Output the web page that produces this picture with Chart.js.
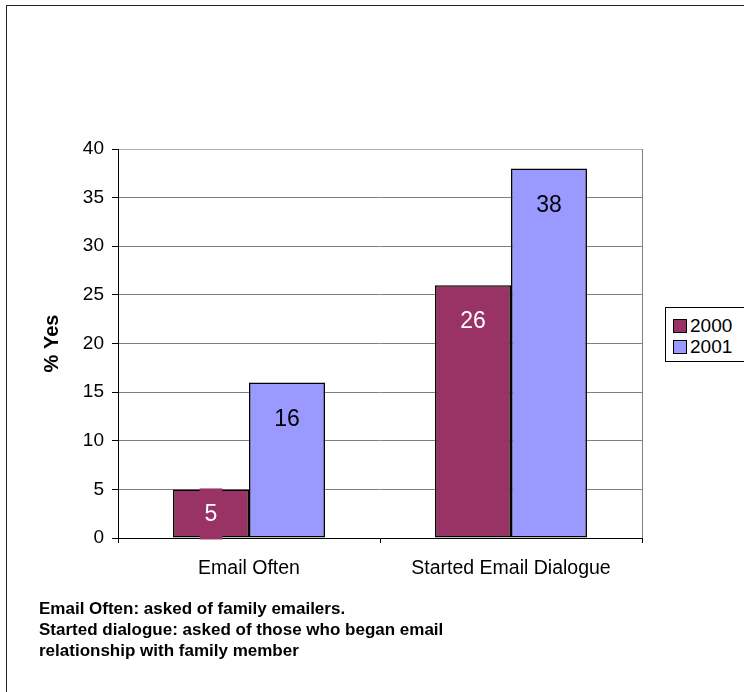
<!DOCTYPE html>
<html>
<head>
<meta charset="utf-8">
<script src="https://cdn.jsdelivr.net/npm/chart.js@4/dist/chart.umd.min.js"></script>
<style>
  html, body { margin: 0; padding: 0; background: #fff; }
  body { width: 744px; height: 692px; overflow: hidden; position: relative; font-family: Arial, "Liberation Sans", sans-serif; }
  #frame { position: absolute; left: 6px; top: 5px; width: 760px; height: 720px; border-left: 1px solid #222; border-top: 1px solid #222; }
  #chart { position: absolute; left: 0; top: 0; }
  #legend { position: absolute; left: 665px; top: 307px; width: 100px; height: 53px; border: 1px solid #000; background: #fff; }
  .item { position: absolute; left: 7px; font-size: 19px; line-height: 20px; color: #000; }
  .swatch { display: inline-block; width: 12px; height: 12px; border: 1px solid #000; margin-right: 3px; vertical-align: -1px; }
  #note { position: absolute; left: 39px; top: 598px; font-size: 17px; font-weight: bold; line-height: 21px; color: #000; }
</style>
</head>
<body>
<div id="frame"></div>
<canvas id="chart" width="744" height="692"></canvas>
<div id="legend"></div>
<div id="note">Email Often: asked of family emailers.<br>Started dialogue: asked of those who began email<br>relationship with family member</div>
<script>
const categories = ["Email Often", "Started Email Dialogue"];
const seriesNames = ["2000", "2001"];
const values2000 = [5, 26];
const values2001 = [16, 38];
const yTicks = [0, 5, 10, 15, 20, 25, 30, 35, 40];

const barColors = ["#993366", "#9999FF"];
const labelColors = ["#ffffff", "#000000"];

// legend built from the series
const legendEl = document.getElementById("legend");
seriesNames.forEach((name, i) => {
    const row = document.createElement("div");
    row.className = "item";
    row.style.top = (8 + i * 21) + "px";
    row.innerHTML = '<span class="swatch" style="background:' + barColors[i] + '"></span>' + name;
    legendEl.appendChild(row);
});

// labels inside the top of each bar, with a box in the bar colour
const barLabels = {
    id: "barLabels",
    afterDatasetsDraw(chart) {
        const ctx = chart.ctx;
        ctx.save();
        ctx.font = "23px Arial, 'Liberation Sans', sans-serif";
        ctx.textAlign = "center";
        ctx.textBaseline = "middle";
        chart.data.datasets.forEach((ds, di) => {
            chart.getDatasetMeta(di).data.forEach((bar, i) => {
                const txt = String(ds.data[i]);
                const cy = Math.min(bar.y + 36, (bar.y + bar.base) / 2);
                const w = ctx.measureText(txt).width + 10;
                ctx.fillStyle = barColors[di];
                ctx.fillRect(bar.x - w / 2, cy - 25, w, 51);
                ctx.fillStyle = labelColors[di];
                ctx.fillText(txt, bar.x, cy + 1);
            });
        });
        ctx.restore();
    }
};

// gray right edge of the plot area
const plotFrame = {
    id: "plotFrame",
    beforeDatasetsDraw(chart) {
        const a = chart.chartArea;
        const ctx = chart.ctx;
        ctx.save();
        ctx.strokeStyle = "#808080";
        ctx.lineWidth = 1;
        ctx.beginPath();
        ctx.moveTo(Math.round(a.right) + 0.5, a.top);
        ctx.lineTo(Math.round(a.right) + 0.5, a.bottom);
        ctx.stroke();
        ctx.restore();
    }
};

new Chart(document.getElementById("chart"), {
    type: "bar",
    data: {
        labels: categories,
        datasets: [
            { label: seriesNames[0], data: values2000, backgroundColor: barColors[0], borderColor: "#000", borderWidth: 1.6, borderSkipped: false },
            { label: seriesNames[1], data: values2001, backgroundColor: barColors[1], borderColor: "#000", borderWidth: 1.6, borderSkipped: false }
        ]
    },
    options: {
        responsive: false,
        animation: false,
        barPercentage: 1,
        categoryPercentage: 0.58,
        layout: { padding: { left: 0, right: 102, top: 149, bottom: 94 } },
        plugins: { legend: { display: false }, tooltip: { enabled: false } },
        scales: {
            x: {
                afterFit(scale) { scale.height = 60; },
                grid: { display: true, drawOnChartArea: false, offset: true, color: "#000", tickLength: 5 },
                border: { color: "#000", width: 1 },
                ticks: { color: "#000", padding: 14, font: { size: 19.5, family: "Arial, 'Liberation Sans', sans-serif" } }
            },
            y: {
                min: 0,
                max: 40,
                afterFit(scale) { scale.width = 118; },
                afterBuildTicks(scale) { scale.ticks = yTicks.map(v => ({ value: v })); },
                grid: {
                    color: ctx => ctx.tick && ctx.tick.value === 40 ? "#b0b0b0" : "#808080",
                    tickColor: "#000",
                    tickLength: 6
                },
                border: { color: "#000", width: 1 },
                ticks: { color: "#000", padding: 8, font: { size: 19, family: "Arial, 'Liberation Sans', sans-serif" } },
                title: {
                    display: true,
                    text: "% Yes",
                    color: "#000",
                    padding: { top: 40, bottom: 0 },
                    font: { size: 20, weight: "bold", family: "Arial, 'Liberation Sans', sans-serif" }
                }
            }
        }
    },
    plugins: [plotFrame, barLabels]
});
</script>
</body>
</html>
